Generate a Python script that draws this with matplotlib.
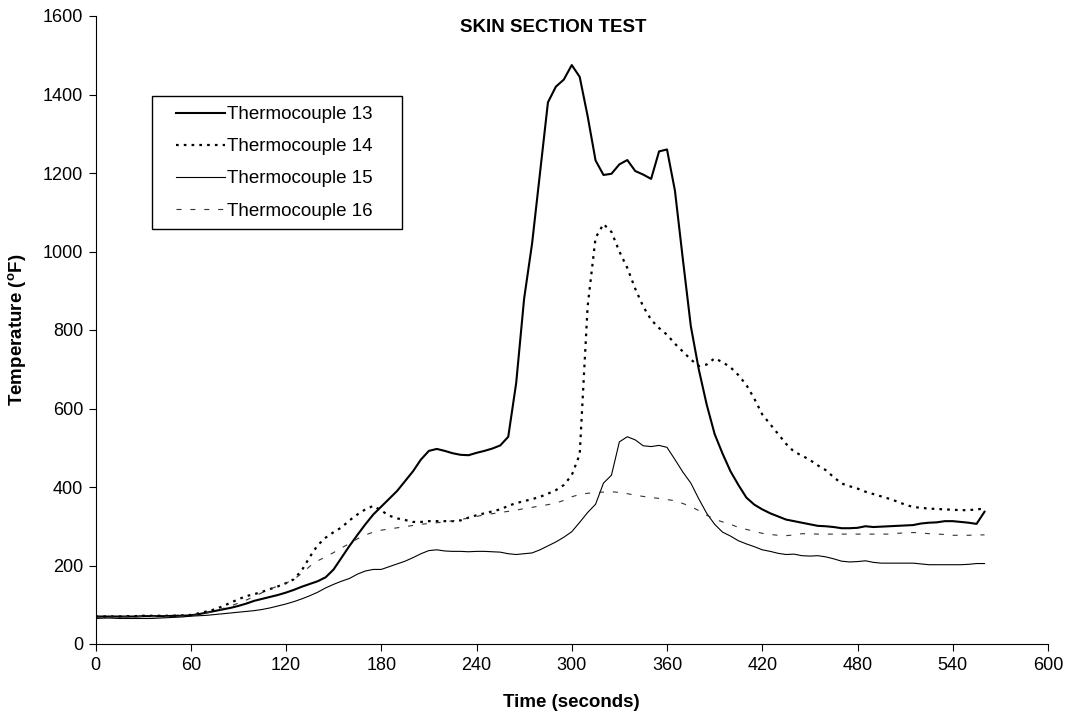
import numpy as np
import matplotlib
matplotlib.use("Agg")
import matplotlib.pyplot as plt
from matplotlib.patches import Rectangle

plt.rcParams['font.family'] = ['Liberation Sans', 'DejaVu Sans']

# time, seconds (5 s sampling)
time_s = np.arange(0, 565, 5)

tc13 = [70, 70, 70, 70, 70, 70, 71, 71, 71, 71, 72, 72, 73, 76, 80, 84, 88, 92, 97, 103,
        110, 115, 120, 125, 131, 138, 146, 153, 160, 170, 190, 220, 250, 278, 305, 330, 350, 370, 390, 415,
        440, 470, 492, 497, 492, 486, 482, 481, 487, 492, 498, 506, 528, 665, 880, 1020, 1200, 1380, 1420, 1438,
        1475, 1445, 1345, 1232, 1195, 1198, 1222, 1233, 1205, 1196, 1185, 1255, 1260, 1155, 980, 810, 700, 610, 535, 485,
        440, 405, 373, 355, 343, 333, 325, 317, 313, 309, 305, 301, 300, 298, 295, 295, 296, 300, 298, 299,
        300, 301, 302, 303, 307, 309, 310, 313, 313, 311, 309, 306, 337]

tc14 = [70, 70, 70, 70, 71, 71, 72, 72, 72, 72, 72, 73, 74, 78, 83, 88, 96, 105, 114, 122,
        127, 133, 140, 147, 155, 165, 188, 222, 252, 271, 285, 297, 315, 330, 343, 352, 340, 327, 320, 316,
        311, 311, 313, 313, 313, 313, 315, 322, 328, 333, 338, 343, 352, 359, 364, 369, 375, 383, 392, 405,
        430, 483, 860, 1035, 1070, 1050, 1000, 958, 905, 860, 826, 805, 788, 765, 745, 725, 708, 712, 728, 718,
        705, 685, 660, 625, 585, 560, 535, 510, 490, 480, 469, 455, 443, 425, 409, 402, 396, 388, 382, 376,
        370, 363, 355, 349, 347, 345, 344, 343, 342, 341, 341, 343, 345]

tc15 = [65, 66, 66, 65, 65, 65, 65, 65, 66, 67, 68, 69, 71, 72, 73, 75, 77, 79, 81, 83,
        85, 88, 92, 97, 102, 108, 115, 123, 132, 143, 152, 160, 167, 178, 186, 190, 190, 197, 204, 211,
        220, 230, 238, 240, 237, 236, 236, 235, 236, 236, 235, 234, 230, 228, 230, 232, 240, 250, 260, 272,
        286, 310, 335, 356, 410, 430, 515, 528, 520, 505, 503, 506, 501, 470, 438, 410, 370, 333, 305, 285,
        275, 263, 255, 248, 240, 236, 231, 228, 229, 225, 224, 225, 222, 217, 211, 209, 210, 212, 208, 206,
        206, 206, 206, 206, 204, 202, 202, 202, 202, 202, 203, 205, 205]

tc16 = [68, 68, 68, 69, 69, 69, 70, 70, 70, 70, 70, 71, 72, 75, 79, 84, 90, 97, 104, 112,
        121, 131, 140, 148, 155, 165, 180, 198, 212, 222, 233, 245, 256, 268, 278, 285, 290, 293, 296, 299,
        302, 305, 307, 309, 311, 314, 317, 321, 325, 329, 332, 335, 338, 341, 345, 348, 352, 355, 359, 366,
        375, 381, 384, 386, 387, 388, 386, 383, 379, 376, 373, 371, 368, 365, 358, 350, 340, 328, 318, 311,
        305, 297, 292, 287, 282, 279, 277, 276, 278, 281, 281, 280, 280, 280, 280, 280, 280, 280, 280, 280,
        280, 282, 283, 284, 283, 281, 280, 279, 277, 277, 277, 278, 278]

series_names = ['Thermocouple 13', 'Thermocouple 14', 'Thermocouple 15', 'Thermocouple 16']

W, H = 1071, 719
fig = plt.figure(figsize=(W / 100, H / 100), dpi=100)
ax = fig.add_axes([95.5 / W, 1 - 644 / H, 952.5 / W, 628 / H])

ax.plot(time_s, tc13, color='black', lw=1.5, label=series_names[0])
ax.plot(time_s, tc14, color='black', lw=1.6, linestyle=(0, (1.2, 2.3)), label=series_names[1])
ax.plot(time_s, tc15, color='black', lw=0.8, label=series_names[2])
ax.plot(time_s, tc16, color='#333333', lw=0.8, linestyle=(0, (4.5, 8)), label=series_names[3])

ax.set_xlim(0, 600)
ax.set_ylim(0, 1600)
ax.set_xticks(range(0, 601, 60))
ax.set_yticks(range(0, 1601, 200))
ax.spines['top'].set_visible(False)
ax.spines['right'].set_visible(False)
ax.tick_params(direction='out', length=5, labelsize=13, pad=4)

ax.set_xlabel('Time (seconds)', fontsize=13.5, fontweight='bold')
ax.set_ylabel(r'Temperature ($^\mathregular{o}$F)', fontsize=13.5, fontweight='bold')
ax.xaxis.set_label_coords(0.5, (644 - 694) / 628)
ax.yaxis.set_label_coords((29 - 95.5) / 952.5, 0.5)
fig.text(553 / W, 1 - 27 / H, 'SKIN SECTION TEST', ha='center', va='center',
         fontsize=13.5, fontweight='bold')

# legend box drawn separately so its size matches the original
fig.patches.append(Rectangle((152 / W, 1 - 229 / H), 250 / W, 133 / H,
                             transform=fig.transFigure, facecolor='white',
                             edgecolor='black', lw=1.0, zorder=3))
leg = fig.legend(loc='upper left', bbox_to_anchor=(176 / W, 1 - 106 / H), fontsize=13.5,
                 frameon=False, handlelength=2.6, handletextpad=0.12,
                 borderpad=0, labelspacing=0.8, borderaxespad=0)
leg.set_zorder(4)

fig.savefig('out.png', dpi=100)
